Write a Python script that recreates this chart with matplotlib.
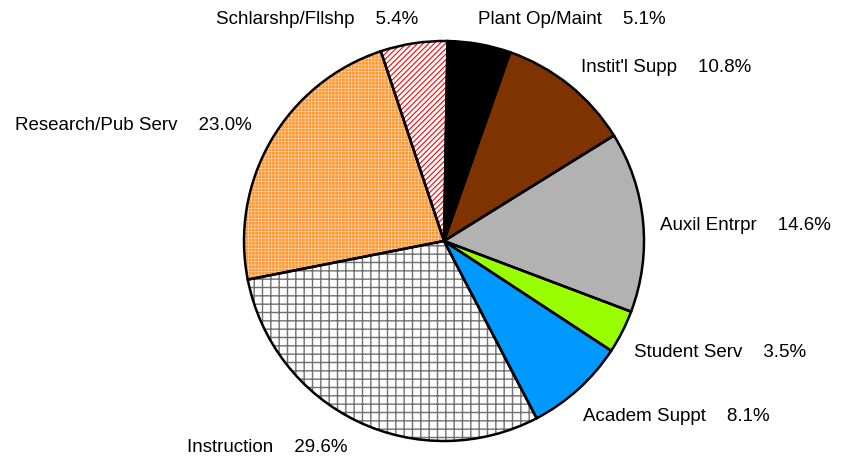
import numpy as np
import matplotlib
matplotlib.use("Agg")
import matplotlib.pyplot as plt
from matplotlib.patches import Wedge

plt.rcParams['font.family'] = ['Liberation Sans', 'DejaVu Sans']

# data, clockwise from 12 o'clock
names = ['Plant Op/Maint', "Instit'l Supp", 'Auxil Entrpr', 'Student Serv',
         'Academ Suppt', 'Instruction', 'Research/Pub Serv', 'Schlarshp/Fllshp']
shares = [5.1, 10.8, 14.6, 3.5, 8.1, 29.6, 23.0, 5.4]

# styles
fills = ['#000000', '#7f3300', '#b2b2b2', '#99ff00', '#0099ff', '#ffffff', '#ff9933', '#ffffff']
hatches = [None, None, None, None, None, '++', '+++++', '//////']
hatch_cols = [None, None, None, None, None, '#707070', '#ffffff', '#ff0000']
hatch_lw = [0, 0, 0, 0, 0, 1.0, 0.25, 0.8]

# label anchors (left edge, centre) in pixels from top-left
label_px = [(478, 20), (581, 68), (660, 226), (634, 353),
            (583, 417), (187, 448), (15, 126), (216, 20)]

W, H = 844, 460
fig = plt.figure(figsize=(W / 100, H / 100), dpi=100)
ax = fig.add_axes([0, 0, 1, 1])

cx, cy, r = 444, H - 242, 200

wedges, _ = ax.pie(shares, colors=fills, startangle=89, counterclock=False,
                   center=(cx, cy), radius=r, frame=True,
                   wedgeprops=dict(linewidth=0))
ax.set_xlim(0, W)
ax.set_ylim(0, H)
ax.set_aspect('equal')
ax.axis('off')

for w, h, hc, hl in zip(wedges, hatches, hatch_cols, hatch_lw):
    if h:
        with plt.rc_context({'hatch.linewidth': hl}):
            hp = Wedge((cx, cy), r, w.theta1, w.theta2, fill=False,
                       hatch=h, edgecolor=hc, linewidth=0, zorder=2)
            if hasattr(hp, 'set_hatch_linewidth'):
                hp.set_hatch_linewidth(hl)
        ax.add_patch(hp)
    ax.add_patch(Wedge((cx, cy), r, w.theta1, w.theta2, fill=False,
                       edgecolor='black', linewidth=1.8, zorder=3))

for n, s, (px, py) in zip(names, shares, label_px):
    ax.text(px, H - py, f'{n}    {s:.1f}%', ha='left', va='center',
            fontsize=13.5, color='black')

fig.savefig('out.png', dpi=100)
